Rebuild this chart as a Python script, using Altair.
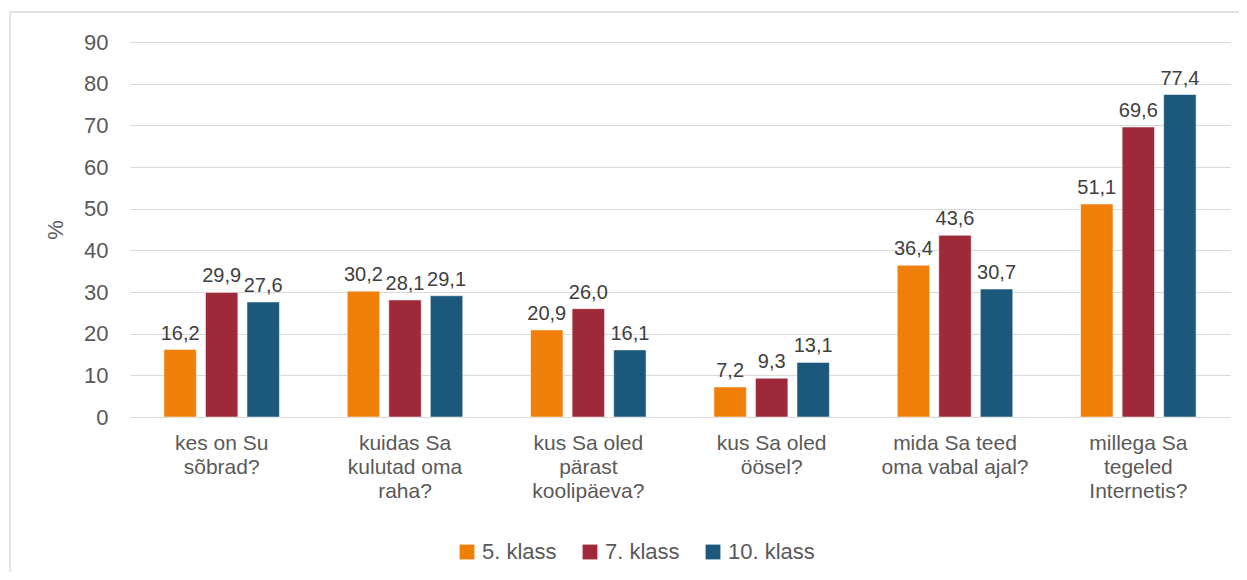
import altair as alt
import pandas as pd

categories = [
    "kes on Su|sõbrad?",
    "kuidas Sa|kulutad oma|raha?",
    "kus Sa oled|pärast|koolipäeva?",
    "kus Sa oled|öösel?",
    "mida Sa teed|oma vabal ajal?",
    "millega Sa|tegeled|Internetis?",
]
series = ["5. klass", "7. klass", "10. klass"]
v5 = [16.2, 30.2, 20.9, 7.2, 36.4, 51.1]
v7 = [29.9, 28.1, 26.0, 9.3, 43.6, 69.6]
v10 = [27.6, 29.1, 16.1, 13.1, 30.7, 77.4]
colors = ["#F07F09", "#9E2A39", "#1C587C"]

rows = []
for s, vals in zip(series, [v5, v7, v10]):
    for c, v in zip(categories, vals):
        rows.append({"cat": c, "klass": s, "value": v,
                     "label": f"{v:.1f}".replace(".", ",")})
df = pd.DataFrame(rows)

FONT = "Liberation Sans"
GRAY = "#595959"

x = alt.X("cat:N", sort=categories, title=None,
          scale=alt.Scale(paddingInner=0.37, paddingOuter=0.185),
          axis=alt.Axis(labelExpr="split(datum.label, '|')", labelAngle=0,
                        labelFontSize=21, labelColor=GRAY, labelFont=FONT,
                        labelLineHeight=24, labelPadding=15, ticks=False,
                        domain=True, domainColor="#d9d9d9", labelBaseline="top"))
xo = alt.XOffset("klass:N", sort=series, scale=alt.Scale(paddingInner=0.22))
y = alt.Y("value:Q", title="%",
          scale=alt.Scale(domain=[0, 90]),
          axis=alt.Axis(values=list(range(0, 91, 10)), labelFontSize=22,
                        labelColor=GRAY, labelFont=FONT, ticks=False,
                        domain=False, gridColor="#d9d9d9", labelPadding=22,
                        titleFontSize=22, titleFont=FONT, titleColor=GRAY,
                        titleFontWeight="normal", titlePadding=16))

color = alt.Color("klass:N", sort=series,
                  scale=alt.Scale(domain=series, range=colors),
                  legend=alt.Legend(title=None, orient="none", direction="horizontal",
                                    legendX=326, legendY=499,
                                    symbolType="square", symbolSize=220,
                                    symbolStrokeWidth=0, labelFontSize=22,
                                    labelFont=FONT, labelColor=GRAY,
                                    columnPadding=22, labelOffset=4))

bars = alt.Chart(df).mark_bar(stroke="white", strokeWidth=0.5).encode(
    x=x, xOffset=xo, y=y, color=color)

text = alt.Chart(df).mark_text(dy=-6, baseline="bottom", fontSize=20, font=FONT,
                               color="#404040").encode(
    x=x, xOffset=xo, y=y, text="label:N")

border_df = pd.DataFrame({"k": [0]})
top_line = alt.Chart(border_df).mark_rule(color="#d9d9d9", strokeWidth=1.5).encode(
    x=alt.value(-120), x2=alt.value(1130), y=alt.value(-30))
left_line = alt.Chart(border_df).mark_rule(color="#d9d9d9", strokeWidth=1.5).encode(
    x=alt.value(-120), y=alt.value(-30), y2=alt.value(560))

chart = alt.layer(top_line, left_line, bars, text).properties(
    width=1100, height=375,
    autosize=alt.AutoSizeParams(type="none"),
    padding={"left": 122, "top": 34, "right": 9, "bottom": 155},
).configure_view(stroke=None)

chart.save("out.html", embed_options={"renderer": "svg", "actions": False})
